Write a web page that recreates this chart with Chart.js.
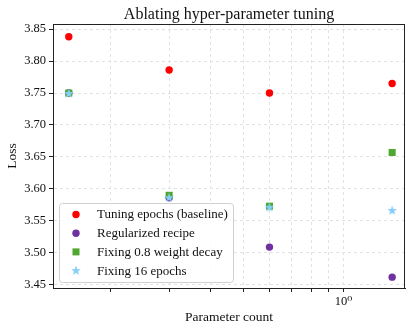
<!DOCTYPE html>
<html>
<head>
<meta charset="utf-8">
<script src="https://cdn.jsdelivr.net/npm/chart.js@4.4.1/dist/chart.umd.min.js"></script>
<style>
  html, body { margin: 0; padding: 0; background: #fff; }
  #wrap { width: 410px; height: 329px; }
</style>
</head>
<body>
<div id="wrap"><canvas id="chart" width="410" height="329"></canvas></div>
<script>
// data
const paramCounts = [0.15, 0.3, 0.6, 1.4];
const baselineLoss = [3.838, 3.786, 3.75, 3.765];
const regularizedLoss = [3.75, 3.586, 3.509, 3.462];
const wdLoss = [3.75, 3.59, 3.573, 3.657];
const epochsLoss = [3.75, 3.587, 3.572, 3.567];
const yTicks = [3.45, 3.5, 3.55, 3.6, 3.65, 3.7, 3.75, 3.8, 3.85];
const xTicks = [0.2, 0.3, 0.4, 0.5, 0.6, 0.7, 0.8, 0.9, 1.0];
const chartTitle = "Ablating hyper-parameter tuning";

const FONT = "'Liberation Serif', 'DejaVu Serif', serif";

// filled 5-point star like matplotlib '*'
function makeStar(size, color) {
  const c = document.createElement("canvas");
  c.width = size;
  c.height = size;
  const ctx = c.getContext("2d");
  const cx = size / 2, cy = size / 2 + 0.6;
  const R = size / 2, r = R * 0.42;
  ctx.beginPath();
  for (let i = 0; i < 10; i++) {
    const a = -Math.PI / 2 + (i * Math.PI) / 5;
    const rad = i % 2 === 0 ? R : r;
    ctx.lineTo(cx + rad * Math.cos(a), cy + rad * Math.sin(a));
  }
  ctx.closePath();
  ctx.fillStyle = color;
  ctx.fill();
  return c;
}

const starImg = makeStar(10, "#87cefa");

function pts(ys) {
  return paramCounts.map((x, i) => ({ x: x, y: ys[i] }));
}

// title over the axes, legend in the lower-left corner, full frame
const framePlugin = {
  id: "frame",
  afterDraw(chart) {
    const ctx = chart.ctx;
    const a = chart.chartArea;
    ctx.save();
    ctx.strokeStyle = "#222";
    ctx.lineWidth = 1;
    ctx.strokeRect(a.left + 0.5, a.top + 0.5, a.right - a.left - 1, a.bottom - a.top);

    ctx.fillStyle = "#111";
    ctx.font = "16px " + FONT;
    ctx.textAlign = "center";
    ctx.textBaseline = "alphabetic";
    ctx.fillText(chartTitle, (a.left + a.right) / 2, 18.5);

    const bx = a.left + 6, by = a.bottom - 85, bw = 174, bh = 79;
    ctx.fillStyle = "rgba(255,255,255,0.85)";
    ctx.strokeStyle = "#d0d0d0";
    ctx.beginPath();
    ctx.roundRect(bx + 0.5, by + 0.5, bw, bh, 3);
    ctx.fill();
    ctx.stroke();

    ctx.font = "13px " + FONT;
    ctx.textAlign = "left";
    ctx.textBaseline = "middle";
    chart.data.datasets.forEach((ds, i) => {
      const yy = by + 11.5 + i * 18.7;
      const mx = bx + 17;
      ctx.fillStyle = ds.backgroundColor;
      if (ds.pointStyle === "circle") {
        ctx.beginPath();
        ctx.arc(mx, yy, 3.7, 0, Math.PI * 2);
        ctx.fill();
      } else if (ds.pointStyle === "rect") {
        ctx.fillRect(mx - 3.5, yy - 3.5, 7, 7);
      } else {
        ctx.drawImage(ds.pointStyle, mx - 5, yy - 5.5);
      }
      ctx.fillStyle = "#111";
      ctx.fillText(ds.label, bx + 38, yy + 0.5);
    });
    ctx.restore();
  },
};

const gridOpts = {
  color: "#e2e2e2",
  tickColor: "#222",
  tickBorderDash: [],
  tickLength: 4,
};
const borderOpts = { display: true, color: "#222", dash: [3, 3] };

new Chart(document.getElementById("chart"), {
  type: "scatter",
  data: {
    datasets: [
      {
        label: "Tuning epochs (baseline)",
        data: pts(baselineLoss),
        backgroundColor: "#ff0000",
        borderWidth: 0,
        pointStyle: "circle",
        pointRadius: 3.7,
        order: 3,
      },
      {
        label: "Regularized recipe",
        data: pts(regularizedLoss),
        backgroundColor: "#7030a0",
        borderWidth: 0,
        pointStyle: "circle",
        pointRadius: 3.7,
        order: 2,
      },
      {
        label: "Fixing 0.8 weight decay",
        data: pts(wdLoss),
        backgroundColor: "#4ea72e",
        borderWidth: 0,
        pointStyle: "rect",
        pointRadius: 5,
        order: 1,
      },
      {
        label: "Fixing 16 epochs",
        data: pts(epochsLoss),
        backgroundColor: "#87cefa",
        borderWidth: 0,
        pointStyle: starImg,
        order: 0,
      },
    ],
  },
  options: {
    responsive: false,
    animation: false,
    layout: { padding: { left: 0, right: 1, top: 24, bottom: 0 } },
    plugins: {
      legend: { display: false },
      tooltip: { enabled: false },
      title: { display: false },
    },
    scales: {
      x: {
        type: "logarithmic",
        min: 0.1345,
        max: 1.53,
        grid: gridOpts,
        border: borderOpts,
        afterBuildTicks: (scale) => {
          scale.ticks = xTicks.map((v) => ({ value: v, major: v === 1 }));
        },
        afterFit: (scale) => {
          scale.height = 41;
        },
        ticks: {
          autoSkip: false,
          maxRotation: 0,
          padding: 2,
          color: "#111",
          font: { family: FONT, size: 12.5 },
          callback: (v) => (v === 1 ? "10\u2070" : ""),
        },
        title: {
          display: true,
          text: "Parameter count",
          color: "#111",
          font: { family: FONT, size: 13.5 },
          padding: { top: 2, bottom: 3 },
        },
      },
      y: {
        min: 3.445,
        max: 3.858,
        grid: gridOpts,
        border: borderOpts,
        afterBuildTicks: (scale) => {
          scale.ticks = yTicks.map((v) => ({ value: v }));
        },
        afterFit: (scale) => {
          scale.width = 53;
        },
        ticks: {
          padding: 3,
          color: "#111",
          font: { family: FONT, size: 12.5 },
          callback: (v) => v.toFixed(2),
        },
        title: {
          display: true,
          text: "Loss",
          color: "#111",
          font: { family: FONT, size: 13.5 },
          padding: { top: 4, bottom: 2 },
        },
      },
    },
  },
  plugins: [framePlugin],
});
</script>
</body>
</html>
